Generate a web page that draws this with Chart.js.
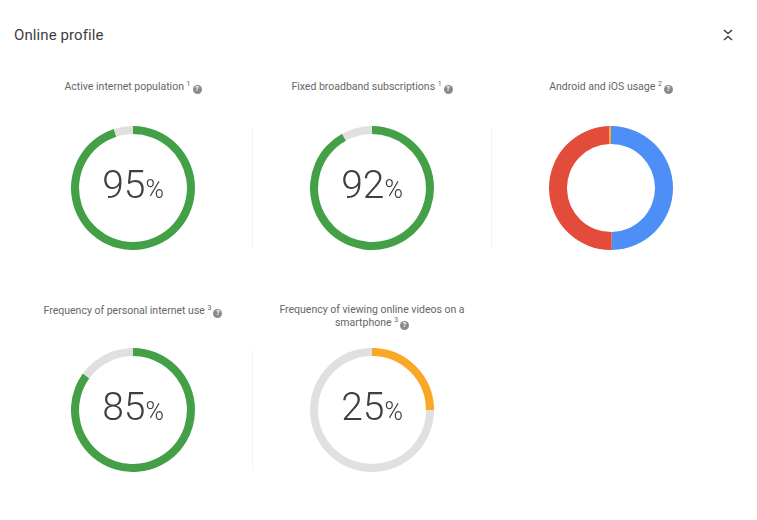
<!DOCTYPE html>
<html>
<head>
<meta charset="utf-8">
<script src="https://cdn.jsdelivr.net/npm/chart.js@4.4.1/dist/chart.umd.min.js"></script>
<style>
  html, body { margin: 0; padding: 0; background: #fff; }
  body { width: 757px; height: 520px; position: relative; overflow: hidden; font-family: Roboto, "Noto Sans", sans-serif; }
  #title { position: absolute; left: 14px; top: 26px; font-size: 15px; color: #3c4043; letter-spacing: 0.1px; }
  #collapse { position: absolute; left: 722px; top: 28px; }
  .label { position: absolute; width: 200px; text-align: center; font-size: 10.5px; line-height: 12.5px; color: #666; }
  .label sup { font-size: 7px; vertical-align: 4px; line-height: 0; }
  .help { display: inline-block; width: 9px; height: 9px; border-radius: 50%; background: #8a8a8a; color: #fff; font-size: 7px; line-height: 9px; text-align: center; font-weight: bold; vertical-align: -1px; margin-left: 2px; }
  .ring { position: absolute; width: 124px; height: 124px; }
  .value { position: absolute; width: 124px; text-align: center; color: #3c4043; font-weight: 300; }
  .value .num { font-size: 39px; }
  .value .pct { font-size: 25px; }
  .sep { position: absolute; width: 1px; background: #f3f3f3; }
</style>
</head>
<body>
<div id="title">Online profile</div>
<svg id="collapse" width="12" height="14" viewBox="0 0 12 14">
  <polyline points="2,2 6,5.5 10,2" fill="none" stroke="#3c4043" stroke-width="1.6"/>
  <polyline points="2,12 6,8.5 10,12" fill="none" stroke="#3c4043" stroke-width="1.6"/>
</svg>

<script>
// gauge panels: share of people (%)
const gaugeLabels = ['Active internet population', 'Fixed broadband subscriptions', 'Frequency of personal internet use', 'Frequency of viewing online videos on a<br>smartphone'];
const gaugeNotes = ['1', '1', '3', '3'];
const gaugeValues = [95, 92, 85, 25];
const gaugeColors = ['#43a047', '#43a047', '#43a047', '#f9a825'];

// mobile OS split
const osTitle = 'Android and iOS usage';
const osNote = '2';
const osLabels = ['iOS', 'Android', 'Other'];
const osValues = [49.8, 49.7, 0.5];
const osColors = ['#4e8ef7', '#e34b3a', '#f9a825'];

const trackColor = '#e0e0e0';

// panel centres (x, ring centre y, label top y) - gauges first, os panel last
const gaugeSlots = [[133, 188, 81], [372, 188, 81], [133, 410, 305], [372, 410, 304]];
const osSlot = [611, 188, 81];

function addLabel(text, note, x, y) {
    const el = document.createElement('div');
    el.className = 'label';
    el.style.left = (x - 100) + 'px';
    el.style.top = y + 'px';
    el.innerHTML = text + ' <sup>' + note + '</sup><span class="help">?</span>';
    document.body.appendChild(el);
}

function addRing(x, y) {
    const c = document.createElement('canvas');
    c.className = 'ring';
    c.width = 124; c.height = 124;
    c.style.left = (x - 62) + 'px';
    c.style.top = (y - 62) + 'px';
    document.body.appendChild(c);
    return c;
}

const baseOptions = (cut) => ({
    responsive: false,
    animation: false,
    cutout: cut,
    layout: { padding: 0 },
    plugins: { legend: { display: false }, tooltip: { enabled: false } }
});

gaugeValues.forEach((v, i) => {
    const [x, y, ly] = gaugeSlots[i];
    addLabel(gaugeLabels[i], gaugeNotes[i], x, ly);
    const ctx = addRing(x, y);
    new Chart(ctx, {
        type: 'doughnut',
        data: {
            labels: ['value', 'rest'],
            datasets: [{
                data: [v, 100 - v],
                backgroundColor: [gaugeColors[i], trackColor],
                borderWidth: 0
            }]
        },
        options: baseOptions('87%')
    });
    const t = document.createElement('div');
    t.className = 'value';
    t.style.left = (x - 62) + 'px';
    t.style.top = (y - 26) + 'px';
    t.innerHTML = '<span class="num">' + v + '</span><span class="pct">%</span>';
    document.body.appendChild(t);
});

addLabel(osTitle, osNote, osSlot[0], osSlot[2]);
new Chart(addRing(osSlot[0], osSlot[1]), {
    type: 'doughnut',
    data: {
        labels: osLabels,
        datasets: [{ data: osValues, backgroundColor: osColors, borderWidth: 0 }]
    },
    options: baseOptions('71%')
});

// thin dividers between panels
[[252, 128, 120], [491, 128, 120], [252, 350, 120]].forEach(([x, y, h]) => {
    const s = document.createElement('div');
    s.className = 'sep';
    s.style.left = x + 'px'; s.style.top = y + 'px'; s.style.height = h + 'px';
    document.body.appendChild(s);
});
</script>
</body>
</html>
